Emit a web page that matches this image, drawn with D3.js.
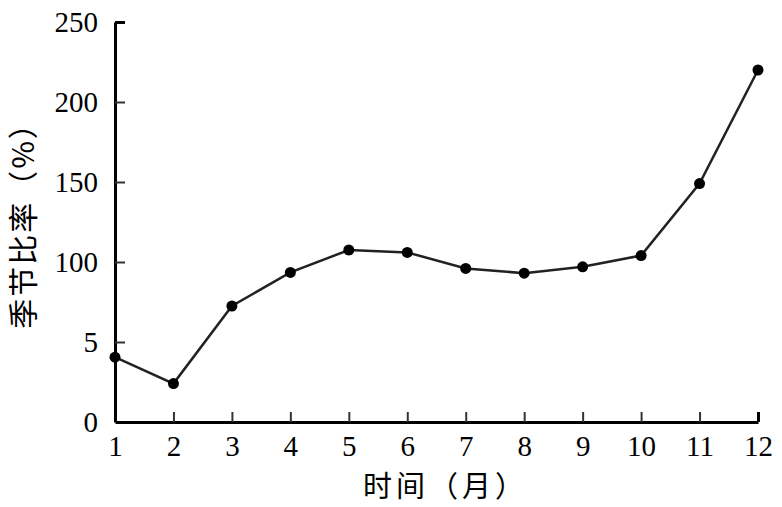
<!DOCTYPE html>
<html>
<head>
<meta charset="utf-8">
<script src="https://cdn.jsdelivr.net/npm/d3@7"></script>
<style>
  body { margin: 0; background: #fff; }
</style>
</head>
<body>
<svg id="mainsvg" width="782" height="507"></svg>
<script>
// data
const months = [1, 2, 3, 4, 5, 6, 7, 8, 9, 10, 11, 12];
const ratios = [40.5, 24, 72.5, 93.5, 107.5, 106, 96, 93, 97, 104, 149, 220];
const yTicks = [0, 50, 100, 150, 200, 250];
const yTickLabels = ['0', '5', '100', '150', '200', '250'];

const svg = d3.select('#mainsvg');
const margin = {top: 22, right: 24, bottom: 85, left: 115};
const width = +svg.attr('width');
const height = +svg.attr('height');
const innerWidth = width - margin.left - margin.right;
const innerHeight = height - margin.top - margin.bottom;

const serif = '"Liberation Serif", "Times New Roman", serif';
const cjk = '"Noto Sans CJK SC", sans-serif';

const xScale = d3.scaleLinear().domain([1, 12]).range([0, innerWidth]);
const yScale = d3.scaleLinear().domain([0, 250]).range([innerHeight, 0]);

const g = svg.append('g')
    .attr('transform', `translate(${margin.left}, ${margin.top})`);

// x axis, ticks pointing inward
const xAxis = d3.axisBottom(xScale)
    .tickValues(months)
    .tickSize(-10)
    .tickSizeOuter(0)
    .tickPadding(13);
const xAxisG = g.append('g').attr('transform', `translate(0, ${innerHeight})`).call(xAxis);

const yAxis = d3.axisLeft(yScale)
    .tickValues(yTicks)
    .tickFormat((d, i) => yTickLabels[i])
    .tickSize(-10)
    .tickSizeOuter(0)
    .tickPadding(17);
const yAxisG = g.append('g').call(yAxis);

[xAxisG, yAxisG].forEach(a => {
    a.select('.domain').attr('stroke', '#000').attr('stroke-width', 3);
    a.selectAll('.tick line').attr('stroke', '#333').attr('stroke-width', 2);
    a.selectAll('.tick text')
        .attr('fill', '#000')
        .attr('font-family', serif)
        .attr('font-size', 29);
});
// end ticks drawn in black like the axis line
yAxisG.selectAll('.tick').filter(d => d === 250).select('line').attr('stroke', '#000').attr('stroke-width', 3);
xAxisG.selectAll('.tick').filter(d => d === 12).select('line').attr('stroke', '#000').attr('stroke-width', 3);
xAxisG.selectAll('.tick').filter(d => d === 1).select('line').remove();
yAxisG.selectAll('.tick').filter(d => d === 0).select('line').remove();

// line
const points = months.map((m, i) => ({m: m, v: ratios[i]}));
const line = d3.line().x(d => xScale(d.m)).y(d => yScale(d.v));
g.append('path')
    .datum(points)
    .attr('d', line)
    .attr('fill', 'none')
    .attr('stroke', '#222')
    .attr('stroke-width', 2.5);

g.selectAll('circle')
    .data(points)
    .enter().append('circle')
    .attr('cx', d => xScale(d.m))
    .attr('cy', d => yScale(d.v))
    .attr('r', 5.5)
    .attr('fill', '#000');

// axis titles
svg.append('text')
    .attr('x', margin.left + xScale(6.5) + 9)
    .attr('y', 497)
    .attr('text-anchor', 'middle')
    .attr('font-family', cjk)
    .attr('font-size', 29)
    .attr('letter-spacing', 4)
    .attr('fill', '#000')
    .text('时间（月）');

svg.append('text')
    .attr('transform', `translate(34, ${margin.top + yScale(125) - 4}) rotate(-90)`)
    .attr('text-anchor', 'middle')
    .attr('font-family', cjk)
    .attr('font-size', 30)
    .attr('letter-spacing', 2)
    .attr('fill', '#000')
    .text('季节比率（%）');
</script>
</body>
</html>
